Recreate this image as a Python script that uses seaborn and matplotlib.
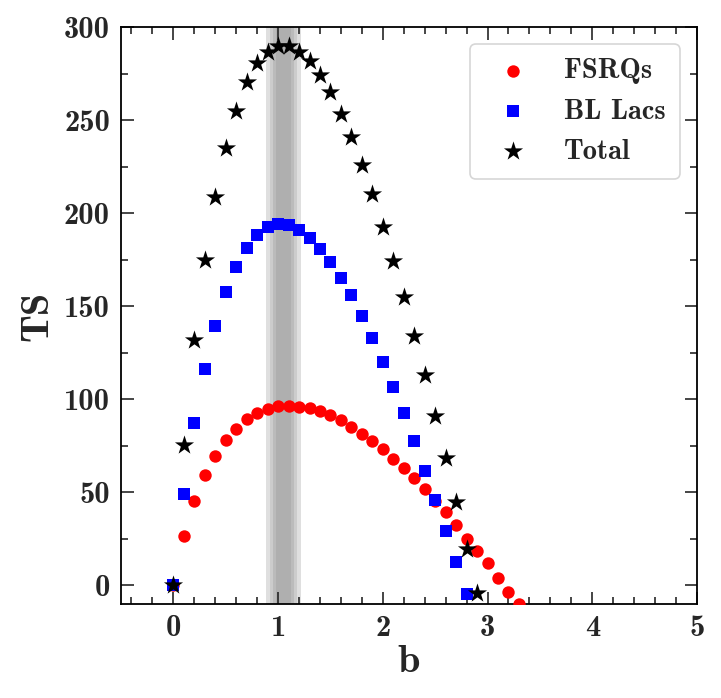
import numpy as np
import pandas as pd
import matplotlib
matplotlib.use("Agg")
import matplotlib.pyplot as plt
import seaborn as sns
from matplotlib.ticker import MultipleLocator

# TS as a function of b
b_fsrq = [0.0, 0.1, 0.2, 0.3, 0.4, 0.5, 0.6, 0.7, 0.8, 0.9, 1.0, 1.1, 1.2, 1.3, 1.4, 1.5, 1.6,
          1.7, 1.8, 1.9, 2.0, 2.1, 2.2, 2.3, 2.4, 2.5, 2.6, 2.7, 2.8, 2.9, 3.0, 3.1, 3.2, 3.3]
ts_fsrq = [0.0, 26.8, 45.2, 59.1, 69.7, 78.2, 84.1, 89.4, 92.6, 94.9, 96.2, 96.2, 95.8, 95.2,
           93.8, 91.6, 88.6, 85.3, 81.4, 77.6, 73.2, 68.0, 63.2, 57.6, 51.7, 45.5, 39.5, 32.7,
           25.0, 18.4, 11.8, 4.1, -3.6, -10.2]

b_bll = [0.0, 0.1, 0.2, 0.3, 0.4, 0.5, 0.6, 0.7, 0.8, 0.9, 1.0, 1.1, 1.2, 1.3, 1.4, 1.5, 1.6,
         1.7, 1.8, 1.9, 2.0, 2.1, 2.2, 2.3, 2.4, 2.5, 2.6, 2.7, 2.8]
ts_bll = [0.0, 49.3, 87.2, 116.3, 139.1, 157.4, 170.8, 181.3, 188.1, 192.6, 194.0, 193.5,
          191.2, 186.9, 180.8, 173.8, 164.9, 156.0, 144.9, 132.8, 120.2, 106.6, 92.4, 77.7,
          61.6, 45.7, 29.1, 12.5, -4.8]

b_tot = [0.0, 0.1, 0.2, 0.3, 0.4, 0.5, 0.6, 0.7, 0.8, 0.9, 1.0, 1.1, 1.2, 1.3, 1.4, 1.5, 1.6,
         1.7, 1.8, 1.9, 2.0, 2.1, 2.2, 2.3, 2.4, 2.5, 2.6, 2.7, 2.8, 2.9]
ts_tot = [0.0, 75.6, 131.8, 175.0, 208.6, 234.9, 254.7, 270.3, 280.5, 286.4, 289.9, 289.9,
          286.7, 281.9, 274.4, 265.3, 253.3, 240.8, 226.0, 210.1, 192.6, 174.2, 155.0, 134.0,
          113.1, 91.1, 68.4, 44.9, 19.8, -4.3]

sns.set_theme(style="ticks")
plt.rcParams["font.family"] = ["cmb10", "DejaVu Serif"]
plt.rcParams["axes.unicode_minus"] = False
plt.rcParams["mathtext.fontset"] = "cm"

fig = plt.figure(figsize=(7.21, 6.98), dpi=100)
ax = fig.add_axes([121 / 721, 1 - 604 / 698, 576 / 721, 577 / 698])

# best-fit band
for lo, hi, a in [(0.885, 1.215, 0.25), (0.92, 1.18, 0.2), (0.95, 1.15, 0.22), (0.98, 1.12, 0.2)]:
    ax.axvspan(lo, hi, color="gray", alpha=a, lw=0, zorder=0)

fsrq = pd.DataFrame({"b": b_fsrq, "TS": ts_fsrq})
bll = pd.DataFrame({"b": b_bll, "TS": ts_bll})
tot = pd.DataFrame({"b": b_tot, "TS": ts_tot})

sns.scatterplot(data=fsrq, x="b", y="TS", ax=ax, color="red", marker="o", s=80,
                linewidth=0, label="FSRQs", zorder=3)
sns.scatterplot(data=bll, x="b", y="TS", ax=ax, color="blue", marker="s", s=85,
                linewidth=0, label="BL Lacs", zorder=3)
sns.scatterplot(data=tot, x="b", y="TS", ax=ax, color="black", marker="*", s=210,
                linewidth=0, label="Total", zorder=4)

ax.set_xlim(-0.5, 5)
ax.set_ylim(-10, 300)
ax.xaxis.set_major_locator(MultipleLocator(1))
ax.xaxis.set_minor_locator(MultipleLocator(0.2))
ax.yaxis.set_major_locator(MultipleLocator(50))
ax.yaxis.set_minor_locator(MultipleLocator(25))
ax.tick_params(which="both", direction="in", top=True, right=True, width=1.2, labelsize=22)
ax.tick_params(which="major", length=9, pad=8)
ax.tick_params(which="minor", length=5)
for sp in ax.spines.values():
    sp.set_linewidth(1.3)
    sp.set_color("black")

ax.set_xlabel("b", fontsize=29, labelpad=2)
ax.set_ylabel("TS", fontsize=29, labelpad=6)

leg = ax.legend(loc="upper right", fontsize=20.5, frameon=True, fancybox=True,
                handletextpad=0.8, borderpad=0.5, labelspacing=0.5, borderaxespad=0.6)
leg.get_frame().set_edgecolor("#cccccc")
leg.get_frame().set_linewidth(1.2)

fig.savefig("out.png", dpi=100)
